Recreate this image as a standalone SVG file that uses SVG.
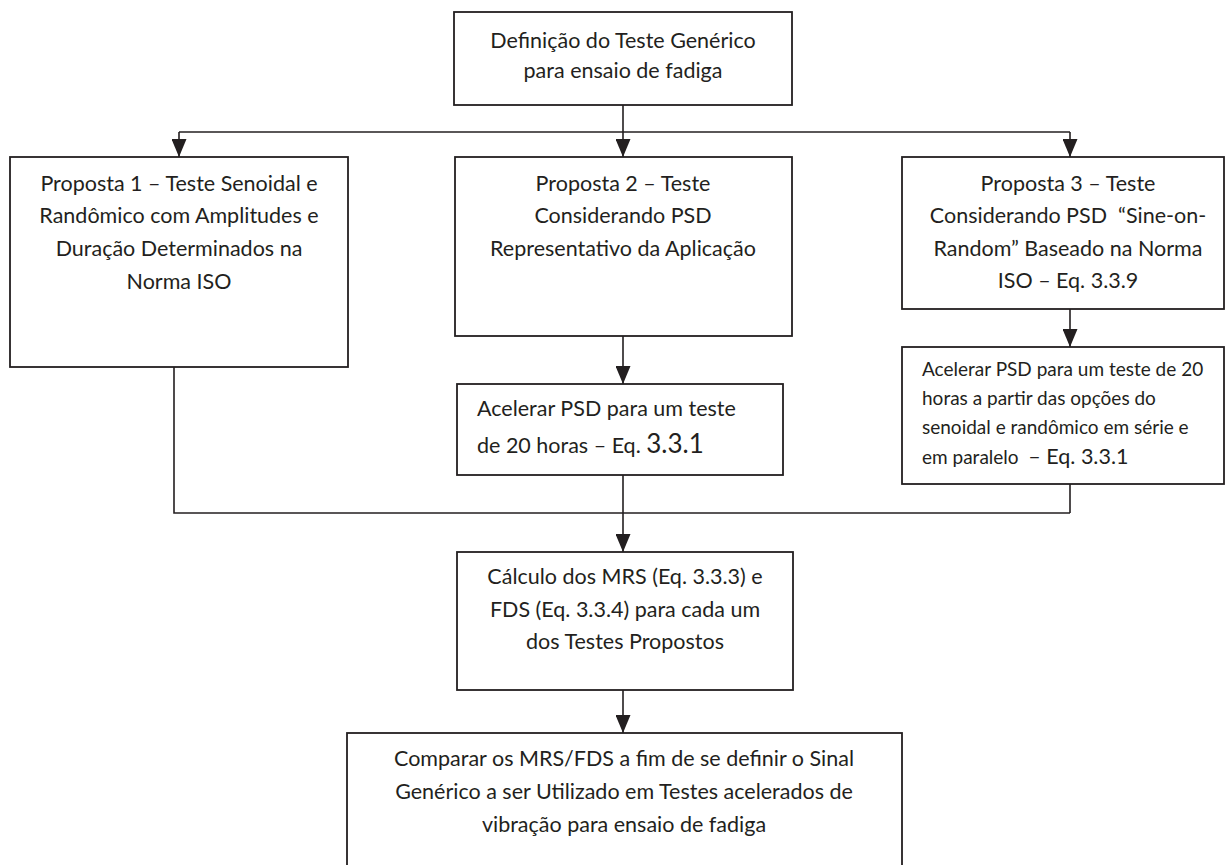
<svg xmlns="http://www.w3.org/2000/svg" width="1228" height="865" viewBox="0 0 1228 865">
  <style>
    .box { fill: #ffffff; stroke: #231f20; stroke-width: 1.8; }
    .wire { fill: none; stroke: #231f20; stroke-width: 1.6; }
    text { font-family: Lato, "Open Sans", "Liberation Sans", sans-serif; fill: #231f20; font-size: 21.5px; }
    .c { text-anchor: middle; }
    .small { font-size: 19px; }
  </style>
  <defs>
    <marker id="arrow" viewBox="0 0 18 15" refX="18" refY="7.5" markerWidth="18" markerHeight="15" markerUnits="userSpaceOnUse" orient="auto">
      <path d="M0,0 L18,7.5 L0,15 Z" fill="#231f20"/>
    </marker>
  </defs>
  <rect width="1228" height="865" fill="#ffffff"/>

  <g id="connectors">
    <!-- split from the top node into three branches -->
    <path class="wire" d="M623,105 V132"/>
    <path class="wire" d="M179,132 H1070"/>
    <path class="wire" d="M179,132 V157" marker-end="url(#arrow)"/>
    <path class="wire" d="M623,132 V157" marker-end="url(#arrow)"/>
    <path class="wire" d="M1070,132 V157" marker-end="url(#arrow)"/>
    <!-- branch steps -->
    <path class="wire" d="M623,336 V384" marker-end="url(#arrow)"/>
    <path class="wire" d="M1070,309 V347" marker-end="url(#arrow)"/>
    <!-- merge -->
    <path class="wire" d="M174,367 V513 H1070"/>
    <path class="wire" d="M1070,484 V513"/>
    <path class="wire" d="M623,475 V552" marker-end="url(#arrow)"/>
    <path class="wire" d="M623,690 V733" marker-end="url(#arrow)"/>
  </g>

  <g id="node-definicao">
    <rect class="box" x="454" y="12" width="338" height="93"/>
    <text class="c" x="623" y="48">Definição do Teste Genérico</text>
    <text class="c" x="623" y="78">para ensaio de fadiga</text>
  </g>

  <g id="node-proposta1">
    <rect class="box" x="10" y="157" width="338" height="210"/>
    <text class="c" x="179" y="191">Proposta 1 – Teste Senoidal e</text>
    <text class="c" x="179" y="223">Randômico com Amplitudes e</text>
    <text class="c" x="179" y="256">Duração Determinados na</text>
    <text class="c" x="179" y="289">Norma ISO</text>
  </g>

  <g id="node-proposta2">
    <rect class="box" x="455" y="157" width="337" height="179"/>
    <text class="c" x="623" y="191">Proposta 2 – Teste</text>
    <text class="c" x="623" y="223">Considerando PSD</text>
    <text class="c" x="623" y="256">Representativo da Aplicação</text>
  </g>

  <g id="node-proposta3">
    <rect class="box" x="902" y="157" width="322" height="152"/>
    <text class="c" x="1068" y="191">Proposta 3 – Teste</text>
    <text class="c" x="1068" y="223" xml:space="preserve">Considerando PSD  “Sine-on-</text>
    <text class="c" x="1068" y="256">Random” Baseado na Norma</text>
    <text class="c" x="1068" y="288">ISO – Eq. 3.3.9</text>
  </g>

  <g id="node-acelerar2">
    <rect class="box" x="457" y="384" width="326" height="91"/>
    <text x="477" y="416">Acelerar PSD para um teste</text>
    <text x="477" y="453">de 20 horas – Eq. <tspan font-size="26">3.3.1</tspan></text>
  </g>

  <g id="node-acelerar3">
    <rect class="box" x="902" y="347" width="322" height="137"/>
    <text class="small" x="922" y="376">Acelerar PSD para um teste de 20</text>
    <text class="small" x="922" y="405">horas a partir das opções do</text>
    <text class="small" x="922" y="434">senoidal e randômico em série e</text>
    <text class="small" x="922" y="464" xml:space="preserve">em paralelo  <tspan font-size="21.5">– Eq. 3.3.1</tspan></text>
  </g>

  <g id="node-calculo">
    <rect class="box" x="457" y="552" width="336" height="138"/>
    <text class="c" x="625" y="584">Cálculo dos MRS (Eq. 3.3.3) e</text>
    <text class="c" x="625" y="617">FDS (Eq. 3.3.4) para cada um</text>
    <text class="c" x="625" y="649">dos Testes Propostos</text>
  </g>

  <g id="node-comparar">
    <rect class="box" x="347" y="733" width="555" height="160"/>
    <text class="c" x="624" y="766">Comparar os MRS/FDS a fim de se definir o Sinal</text>
    <text class="c" x="624" y="799">Genérico a ser Utilizado em Testes acelerados de</text>
    <text class="c" x="624" y="832">vibração para ensaio de fadiga</text>
  </g>
</svg>
